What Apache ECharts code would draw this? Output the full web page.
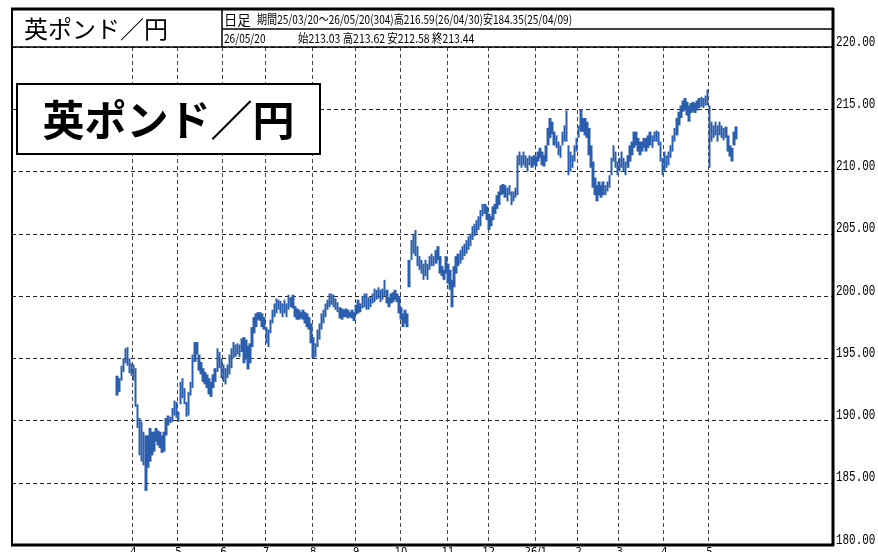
<!DOCTYPE html>
<html><head><meta charset="utf-8">
<script src="https://cdn.jsdelivr.net/npm/echarts/dist/echarts.min.js"></script>
<style>html,body{margin:0;padding:0;background:#fff}#c{width:878px;height:552px}</style>
</head><body><div id="c"></div>
<script>
// Daily lows / highs, 2025-03-20 .. 2026-05-20 (304 trading days)
const lows = [
192.0,192.3,193.2,193.9,194.6,194.4,193.8,193.6,193.2,191.1,
189.4,187.2,186.7,186.4,184.35,186.2,186.7,187.2,187.5,188.3,
188.0,187.8,187.4,187.5,188.8,189.6,189.8,189.9,190.4,190.2,
189.9,191.3,191.8,191.3,190.3,190.4,192.0,192.6,194.7,195.3,
194.0,193.7,193.1,192.9,192.6,192.1,191.9,192.6,193.1,193.9,
194.2,193.4,193.1,192.9,193.4,193.7,194.2,195.0,195.1,195.3,
195.1,195.5,194.6,194.9,194.1,194.6,195.9,197.0,197.5,198.1,
198.0,197.5,197.3,196.2,195.9,197.0,197.8,198.3,198.6,198.9,
198.6,198.3,198.6,198.3,198.9,199.1,199.0,198.3,198.1,198.1,
198.2,198.1,197.8,197.5,197.3,196.2,195.0,195.1,195.9,196.5,
197.3,197.8,198.3,198.9,199.1,199.3,199.1,198.9,198.7,198.2,
198.1,198.3,198.3,198.2,198.3,198.2,198.0,198.5,198.6,198.7,
199.0,199.1,198.9,198.9,199.1,199.4,199.5,199.7,199.8,199.5,
199.7,200.0,199.4,199.1,199.4,199.5,199.7,199.5,198.6,198.1,
197.5,197.8,197.5,200.7,202.9,203.4,203.2,202.4,202.1,201.8,
201.3,201.6,201.3,202.1,202.4,202.4,202.6,202.9,201.8,201.6,
201.3,201.8,201.0,200.5,199.1,200.7,201.8,202.4,202.6,202.9,
203.2,203.4,203.7,204.0,204.5,204.8,205.0,205.3,205.6,206.4,
206.6,206.1,205.3,205.6,206.1,206.6,207.0,207.3,208.1,208.2,
207.9,207.6,208.1,207.3,207.6,207.9,208.1,210.5,210.3,210.5,
210.3,210.0,210.5,210.3,210.5,210.4,210.8,211.1,210.5,210.4,
210.8,212.1,212.7,213.0,212.1,211.9,211.3,211.1,212.1,212.4,
212.4,209.7,210.0,210.3,210.8,211.6,212.7,213.2,213.2,212.9,
212.7,211.3,210.3,208.7,208.1,207.6,208.1,207.9,208.1,208.1,
208.4,208.7,209.7,210.8,210.3,209.7,210.0,210.3,210.0,209.7,
210.3,210.8,211.3,211.9,212.1,211.6,211.3,211.6,211.9,211.6,
211.9,212.1,211.9,212.4,212.4,212.1,210.8,209.7,210.0,210.3,
210.5,211.1,211.6,212.4,212.9,213.7,214.3,214.8,214.9,214.5,
214.0,214.7,214.8,214.7,214.9,215.1,215.2,215.1,215.3,215.3,
210.3,212.4,212.7,212.9,212.4,212.9,212.7,212.5,212.7,211.6,
211.2,210.8,212.1,212.58
];
const highs = [
193.6,193.4,194.4,195.0,195.8,195.9,195.0,194.6,194.5,194.2,
191.3,190.2,189.9,189.1,188.8,188.8,189.4,189.1,189.1,189.4,
189.2,189.1,188.8,189.1,190.2,190.4,190.3,191.0,191.6,191.5,
190.7,193.1,193.4,192.6,191.5,192.3,193.1,195.3,196.3,196.3,
195.3,194.7,194.2,193.9,193.7,193.4,193.1,193.7,194.2,195.8,
195.5,195.0,194.5,194.2,194.5,195.3,195.8,196.3,196.1,196.2,
196.1,196.6,196.7,196.5,196.0,196.2,197.5,198.3,198.6,198.7,
198.7,198.6,198.3,197.5,197.3,198.1,198.9,199.4,199.8,199.7,
199.6,199.4,199.7,199.4,200.1,199.9,200.1,199.2,199.0,198.9,
198.7,198.9,198.7,198.6,198.3,197.8,196.7,196.2,197.3,197.8,
198.6,198.9,199.4,199.7,200.2,200.2,200.1,199.8,199.5,199.1,
199.0,198.9,199.0,198.9,198.7,198.9,198.7,199.3,199.7,199.4,
200.0,200.2,200.2,199.9,199.9,200.2,200.6,200.5,200.7,200.5,
200.6,201.3,200.5,199.9,200.2,200.3,200.5,200.2,200.0,199.1,
198.6,198.9,198.6,202.9,204.5,205.0,205.3,204.0,203.2,202.9,
202.6,202.9,202.6,203.2,203.4,203.2,203.7,204.0,203.2,202.4,
202.1,203.2,202.6,202.1,201.3,202.4,203.2,203.4,203.7,204.0,
204.2,204.5,204.8,205.0,205.6,205.8,206.1,206.4,206.9,207.4,
207.4,207.2,206.6,206.4,207.2,207.4,208.1,208.4,208.9,209.0,
208.9,208.7,208.9,208.4,208.4,208.7,211.3,211.6,211.3,211.6,
211.3,211.1,211.3,211.2,211.3,211.2,211.6,211.9,211.6,211.3,
212.1,213.5,214.3,214.0,213.2,212.9,212.4,212.1,213.2,213.7,
214.9,212.1,211.6,211.3,212.1,212.7,213.7,215.0,214.3,214.3,
214.0,213.5,212.1,210.8,209.5,208.9,209.2,208.9,209.2,208.9,
209.2,209.7,211.1,212.1,211.6,210.8,211.1,211.6,211.1,210.8,
211.3,212.1,212.4,213.2,213.2,212.7,212.4,212.4,212.7,212.7,
212.9,213.2,212.9,213.2,213.3,213.2,212.4,211.1,211.6,211.3,
211.6,212.1,212.9,213.5,214.3,214.8,215.3,215.7,215.9,215.6,
215.3,215.5,215.6,215.5,215.7,215.9,216.0,215.9,216.1,216.59,
215.3,214.0,213.7,214.0,213.7,214.0,213.7,213.5,213.6,212.9,
212.1,211.9,213.2,213.62
];
// month tick labels and the trading-day index of each month's first day
const monthLabels = ['4','5','6','7','8','9','10','11','12','26/1','2','3','4','5'];
const monthStartIdx = [8,30,52,73,96,117,139,162,182,205,226,246,268,290];
const yTickLabels = ['180.00','185.00','190.00','195.00','200.00','205.00','210.00','215.00','220.00'];
const padBefore = 51, padAfter = 47;

const title = '英ポンド／円';
const headRow1a = '日足';
const headRow1b = '期間25/03/20～26/05/20(304)高216.59(26/04/30)安184.35(25/04/09)';
const headRow2a = '26/05/20';
const headRow2b = '始213.03 高213.62 安212.58 終213.44';

const n = lows.length;
const cats = [], seriesData = [];
for (let k = 0; k < padBefore; k++) { cats.push('b' + k); seriesData.push('-'); }
for (let i = 0; i < n; i++) { cats.push('d' + i); seriesData.push([lows[i], highs[i], lows[i], highs[i]]); }
for (let k = 0; k < padAfter; k++) { cats.push('a' + k); seriesData.push('-'); }
const labelMap = new Map();
monthStartIdx.forEach((d, j) => labelMap.set(d + padBefore, monthLabels[j]));

const L = 12, R = 833, T = 47, B = 545;
const chart = echarts.init(document.getElementById('c'));
const blue = '#2c5eae';
const graphics = [
  // frame
  { type: 'rect', z: 100, shape: { x: 12, y: 8, width: 821, height: 39 }, style: { fill: '#fff', stroke: null } },
  { type: 'line', z: 101, shape: { x1: 11, y1: 9, x2: 834, y2: 9 }, style: { stroke: '#000', lineWidth: 3 } },
  { type: 'line', z: 101, shape: { x1: 12, y1: 8, x2: 12, y2: 546 }, style: { stroke: '#000', lineWidth: 2 } },
  { type: 'line', z: 101, shape: { x1: 833, y1: 8, x2: 833, y2: 546 }, style: { stroke: '#000', lineWidth: 3 } },
  { type: 'line', z: 101, shape: { x1: 11, y1: 545, x2: 834, y2: 545 }, style: { stroke: '#000', lineWidth: 3 } },
  { type: 'line', z: 101, shape: { x1: 12, y1: 47, x2: 833, y2: 47 }, style: { stroke: '#000', lineWidth: 1.5 } },
  { type: 'line', z: 101, shape: { x1: 222, y1: 29, x2: 833, y2: 29 }, style: { stroke: '#000', lineWidth: 1.5 } },
  { type: 'line', z: 101, shape: { x1: 222, y1: 8, x2: 222, y2: 47 }, style: { stroke: '#000', lineWidth: 1.5 } },
  // header texts
  { type: 'text', z: 102, x: 24, y: 29, style: { text: title, font: '24px "Noto Sans CJK JP"', fill: '#000', verticalAlign: 'middle' } },
  { type: 'text', z: 102, x: 224, y: 19.5, scaleX: 0.95, style: { text: headRow1a, font: '14px "Noto Sans CJK JP"', fill: '#000', verticalAlign: 'middle' } },
  { type: 'text', z: 102, x: 257, y: 19.5, scaleX: 0.84, style: { text: headRow1b, font: '12px "Noto Sans CJK JP"', fill: '#000', verticalAlign: 'middle' } },
  { type: 'text', z: 102, x: 224, y: 38.5, scaleX: 0.84, style: { text: headRow2a, font: '12px "Noto Sans CJK JP"', fill: '#000', verticalAlign: 'middle' } },
  { type: 'text', z: 102, x: 298, y: 38.5, scaleX: 0.87, style: { text: headRow2b, font: '12px "Noto Sans CJK JP"', fill: '#000', verticalAlign: 'middle' } },
  // big label box
  { type: 'rect', z: 103, shape: { x: 17, y: 84, width: 303, height: 70 }, style: { fill: '#fff', stroke: '#000', lineWidth: 2 } },
  { type: 'text', z: 104, x: 168.5, y: 120, style: { text: title, font: 'bold 42px "Noto Sans CJK JP"', fill: '#000', align: 'center', verticalAlign: 'middle' } }
];
chart.setOption({
  animation: false,
  backgroundColor: '#fff',
  grid: { left: L, right: 878 - R, top: T, bottom: 552 - B, containLabel: false, outerBoundsMode: 'none' },
  xAxis: {
    type: 'category', data: cats, boundaryGap: true,
    axisLine: { show: false }, axisTick: { show: false },
    axisLabel: {
      interval: (i) => labelMap.has(i),
      formatter: (v, i) => labelMap.get(i) || '',
      margin: 2, fontSize: 11, color: '#000',
      fontFamily: '"Liberation Sans Narrow","DejaVu Sans Condensed","Liberation Sans",sans-serif'
    },
    splitLine: { show: true, interval: (i) => labelMap.has(i), lineStyle: { type: [4, 3], color: '#444', width: 1 } }
  },
  yAxis: {
    type: 'value', position: 'right', min: 180, max: 220, interval: 5,
    axisLine: { show: false }, axisTick: { show: false },
    axisLabel: { show: false },
    splitLine: { show: true, lineStyle: { type: [4, 3], color: '#222', width: 1 } }
  },
  series: [{
    type: 'candlestick', data: seriesData, barWidth: 3,
    itemStyle: { color: blue, color0: blue, borderColor: blue, borderColor0: blue, borderWidth: 0 }
  }],
  graphic: graphics
});
// right-hand price labels, placed through the y axis scale (they sit just above their grid line)
const yLabelGraphics = yTickLabels.map((t) => {
  const v = parseFloat(t);
  const py = chart.convertToPixel({ yAxisIndex: 0 }, v);
  return { type: 'text', z: 105, x: 836, y: py - 5, scaleX: 0.78, style: { text: t, font: '14px "Liberation Mono"', fill: '#000', verticalAlign: 'middle' } };
});
chart.setOption({ graphic: graphics.concat(yLabelGraphics) });
</script></body></html>
